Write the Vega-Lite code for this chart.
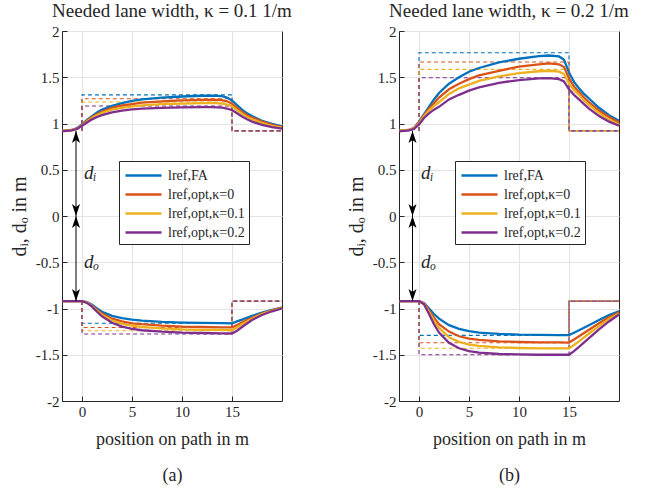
{
  "$schema": "https://vega.github.io/schema/vega-lite/v6.json",
  "background": "white",
  "padding": {"left": 8, "top": 1, "right": 5, "bottom": 0},
  "spacing": 52,
  "config": {
    "font": "Liberation Serif, DejaVu Serif, serif",
    "view": {"stroke": "#262626", "strokeWidth": 1},
    "axis": {"labelFont": "Liberation Serif, DejaVu Serif, serif", "labelFontSize": 15, "labelColor": "#262626", "titleFont": "Liberation Serif, DejaVu Serif, serif", "titleFontSize": 18, "titleFontWeight": "normal", "titleColor": "#262626", "gridColor": "#e3e3e3", "domainColor": "#262626", "tickColor": "#262626", "tickSize": -5, "labelPadding": 8},
    "title": {"font": "Liberation Serif, DejaVu Serif, serif", "fontSize": 19, "fontWeight": "normal", "offset": 3, "color": "#262626"},
    "legend": {"labelFont": "Liberation Serif, DejaVu Serif, serif", "labelFontSize": 14, "labelColor": "#262626", "strokeColor": "#262626", "fillColor": "white", "padding": 4, "rowPadding": 1}
  },
  "datasets": {
    "solid": [
      {"p":"a","s":"FA","d":"u","x":-2,"y":0.92},{"p":"a","s":"FA","d":"u","x":-1,"y":0.93},{"p":"a","s":"FA","d":"u","x":-0.5,"y":0.95},{"p":"a","s":"FA","d":"u","x":0,"y":0.99},{"p":"a","s":"FA","d":"u","x":0.5,"y":1.04},{"p":"a","s":"FA","d":"u","x":1,"y":1.08},{"p":"a","s":"FA","d":"u","x":1.5,"y":1.12},{"p":"a","s":"FA","d":"u","x":2,"y":1.15},{"p":"a","s":"FA","d":"u","x":3,"y":1.19},{"p":"a","s":"FA","d":"u","x":4,"y":1.22},{"p":"a","s":"FA","d":"u","x":5,"y":1.245},{"p":"a","s":"FA","d":"u","x":6,"y":1.26},{"p":"a","s":"FA","d":"u","x":8,"y":1.28},{"p":"a","s":"FA","d":"u","x":10,"y":1.292},{"p":"a","s":"FA","d":"u","x":12,"y":1.3},{"p":"a","s":"FA","d":"u","x":13,"y":1.302},{"p":"a","s":"FA","d":"u","x":14,"y":1.295},{"p":"a","s":"FA","d":"u","x":14.5,"y":1.28},{"p":"a","s":"FA","d":"u","x":15,"y":1.25},{"p":"a","s":"FA","d":"u","x":15.5,"y":1.2},{"p":"a","s":"FA","d":"u","x":16,"y":1.15},{"p":"a","s":"FA","d":"u","x":16.5,"y":1.11},{"p":"a","s":"FA","d":"u","x":17,"y":1.08},{"p":"a","s":"FA","d":"u","x":18,"y":1.03},{"p":"a","s":"FA","d":"u","x":19,"y":0.995},{"p":"a","s":"FA","d":"u","x":20,"y":0.97},
      {"p":"a","s":"k0","d":"u","x":-2,"y":0.92},{"p":"a","s":"k0","d":"u","x":-1,"y":0.93},{"p":"a","s":"k0","d":"u","x":-0.5,"y":0.945},{"p":"a","s":"k0","d":"u","x":0,"y":0.985},{"p":"a","s":"k0","d":"u","x":0.5,"y":1.03},{"p":"a","s":"k0","d":"u","x":1,"y":1.07},{"p":"a","s":"k0","d":"u","x":1.5,"y":1.1},{"p":"a","s":"k0","d":"u","x":2,"y":1.13},{"p":"a","s":"k0","d":"u","x":3,"y":1.17},{"p":"a","s":"k0","d":"u","x":4,"y":1.195},{"p":"a","s":"k0","d":"u","x":5,"y":1.21},{"p":"a","s":"k0","d":"u","x":6,"y":1.225},{"p":"a","s":"k0","d":"u","x":8,"y":1.24},{"p":"a","s":"k0","d":"u","x":10,"y":1.25},{"p":"a","s":"k0","d":"u","x":12,"y":1.256},{"p":"a","s":"k0","d":"u","x":13,"y":1.258},{"p":"a","s":"k0","d":"u","x":14,"y":1.252},{"p":"a","s":"k0","d":"u","x":14.5,"y":1.24},{"p":"a","s":"k0","d":"u","x":15,"y":1.215},{"p":"a","s":"k0","d":"u","x":15.5,"y":1.17},{"p":"a","s":"k0","d":"u","x":16,"y":1.125},{"p":"a","s":"k0","d":"u","x":16.5,"y":1.09},{"p":"a","s":"k0","d":"u","x":17,"y":1.065},{"p":"a","s":"k0","d":"u","x":18,"y":1.02},{"p":"a","s":"k0","d":"u","x":19,"y":0.985},{"p":"a","s":"k0","d":"u","x":20,"y":0.96},
      {"p":"a","s":"k1","d":"u","x":-2,"y":0.92},{"p":"a","s":"k1","d":"u","x":-1,"y":0.928},{"p":"a","s":"k1","d":"u","x":-0.5,"y":0.943},{"p":"a","s":"k1","d":"u","x":0,"y":0.98},{"p":"a","s":"k1","d":"u","x":0.5,"y":1.02},{"p":"a","s":"k1","d":"u","x":1,"y":1.06},{"p":"a","s":"k1","d":"u","x":1.5,"y":1.09},{"p":"a","s":"k1","d":"u","x":2,"y":1.115},{"p":"a","s":"k1","d":"u","x":3,"y":1.15},{"p":"a","s":"k1","d":"u","x":4,"y":1.17},{"p":"a","s":"k1","d":"u","x":5,"y":1.185},{"p":"a","s":"k1","d":"u","x":6,"y":1.195},{"p":"a","s":"k1","d":"u","x":8,"y":1.21},{"p":"a","s":"k1","d":"u","x":10,"y":1.215},{"p":"a","s":"k1","d":"u","x":12,"y":1.22},{"p":"a","s":"k1","d":"u","x":13,"y":1.222},{"p":"a","s":"k1","d":"u","x":14,"y":1.216},{"p":"a","s":"k1","d":"u","x":14.5,"y":1.205},{"p":"a","s":"k1","d":"u","x":15,"y":1.185},{"p":"a","s":"k1","d":"u","x":15.5,"y":1.145},{"p":"a","s":"k1","d":"u","x":16,"y":1.105},{"p":"a","s":"k1","d":"u","x":16.5,"y":1.07},{"p":"a","s":"k1","d":"u","x":17,"y":1.045},{"p":"a","s":"k1","d":"u","x":18,"y":1.005},{"p":"a","s":"k1","d":"u","x":19,"y":0.975},{"p":"a","s":"k1","d":"u","x":20,"y":0.955},
      {"p":"a","s":"k2","d":"u","x":-2,"y":0.915},{"p":"a","s":"k2","d":"u","x":-1,"y":0.925},{"p":"a","s":"k2","d":"u","x":-0.5,"y":0.94},{"p":"a","s":"k2","d":"u","x":0,"y":0.975},{"p":"a","s":"k2","d":"u","x":0.5,"y":1.01},{"p":"a","s":"k2","d":"u","x":1,"y":1.045},{"p":"a","s":"k2","d":"u","x":1.5,"y":1.07},{"p":"a","s":"k2","d":"u","x":2,"y":1.09},{"p":"a","s":"k2","d":"u","x":3,"y":1.12},{"p":"a","s":"k2","d":"u","x":4,"y":1.14},{"p":"a","s":"k2","d":"u","x":5,"y":1.152},{"p":"a","s":"k2","d":"u","x":6,"y":1.16},{"p":"a","s":"k2","d":"u","x":8,"y":1.17},{"p":"a","s":"k2","d":"u","x":10,"y":1.175},{"p":"a","s":"k2","d":"u","x":12,"y":1.178},{"p":"a","s":"k2","d":"u","x":13,"y":1.178},{"p":"a","s":"k2","d":"u","x":14,"y":1.172},{"p":"a","s":"k2","d":"u","x":14.5,"y":1.162},{"p":"a","s":"k2","d":"u","x":15,"y":1.145},{"p":"a","s":"k2","d":"u","x":15.5,"y":1.11},{"p":"a","s":"k2","d":"u","x":16,"y":1.075},{"p":"a","s":"k2","d":"u","x":16.5,"y":1.045},{"p":"a","s":"k2","d":"u","x":17,"y":1.02},{"p":"a","s":"k2","d":"u","x":18,"y":0.985},{"p":"a","s":"k2","d":"u","x":19,"y":0.96},{"p":"a","s":"k2","d":"u","x":20,"y":0.945},

      {"p":"a","s":"FA","d":"l","x":-2,"y":-0.92},{"p":"a","s":"FA","d":"l","x":0,"y":-0.92},{"p":"a","s":"FA","d":"l","x":0.5,"y":-0.93},{"p":"a","s":"FA","d":"l","x":1,"y":-0.96},{"p":"a","s":"FA","d":"l","x":1.5,"y":-1.0},{"p":"a","s":"FA","d":"l","x":2,"y":-1.035},{"p":"a","s":"FA","d":"l","x":3,"y":-1.08},{"p":"a","s":"FA","d":"l","x":4,"y":-1.105},{"p":"a","s":"FA","d":"l","x":5,"y":-1.12},{"p":"a","s":"FA","d":"l","x":6,"y":-1.13},{"p":"a","s":"FA","d":"l","x":8,"y":-1.145},{"p":"a","s":"FA","d":"l","x":10,"y":-1.152},{"p":"a","s":"FA","d":"l","x":12,"y":-1.156},{"p":"a","s":"FA","d":"l","x":14,"y":-1.158},{"p":"a","s":"FA","d":"l","x":15,"y":-1.16},{"p":"a","s":"FA","d":"l","x":15.5,"y":-1.14},{"p":"a","s":"FA","d":"l","x":16,"y":-1.12},{"p":"a","s":"FA","d":"l","x":17,"y":-1.08},{"p":"a","s":"FA","d":"l","x":18,"y":-1.045},{"p":"a","s":"FA","d":"l","x":19,"y":-1.015},{"p":"a","s":"FA","d":"l","x":20,"y":-0.99},
      {"p":"a","s":"k0","d":"l","x":-2,"y":-0.92},{"p":"a","s":"k0","d":"l","x":0,"y":-0.92},{"p":"a","s":"k0","d":"l","x":0.5,"y":-0.935},{"p":"a","s":"k0","d":"l","x":1,"y":-0.97},{"p":"a","s":"k0","d":"l","x":1.5,"y":-1.015},{"p":"a","s":"k0","d":"l","x":2,"y":-1.055},{"p":"a","s":"k0","d":"l","x":3,"y":-1.11},{"p":"a","s":"k0","d":"l","x":4,"y":-1.14},{"p":"a","s":"k0","d":"l","x":5,"y":-1.16},{"p":"a","s":"k0","d":"l","x":6,"y":-1.17},{"p":"a","s":"k0","d":"l","x":8,"y":-1.185},{"p":"a","s":"k0","d":"l","x":10,"y":-1.195},{"p":"a","s":"k0","d":"l","x":12,"y":-1.2},{"p":"a","s":"k0","d":"l","x":14,"y":-1.205},{"p":"a","s":"k0","d":"l","x":15,"y":-1.205},{"p":"a","s":"k0","d":"l","x":15.5,"y":-1.18},{"p":"a","s":"k0","d":"l","x":16,"y":-1.15},{"p":"a","s":"k0","d":"l","x":17,"y":-1.1},{"p":"a","s":"k0","d":"l","x":18,"y":-1.055},{"p":"a","s":"k0","d":"l","x":19,"y":-1.02},{"p":"a","s":"k0","d":"l","x":20,"y":-0.99},
      {"p":"a","s":"k1","d":"l","x":-2,"y":-0.92},{"p":"a","s":"k1","d":"l","x":0,"y":-0.92},{"p":"a","s":"k1","d":"l","x":0.5,"y":-0.935},{"p":"a","s":"k1","d":"l","x":1,"y":-0.975},{"p":"a","s":"k1","d":"l","x":1.5,"y":-1.025},{"p":"a","s":"k1","d":"l","x":2,"y":-1.07},{"p":"a","s":"k1","d":"l","x":3,"y":-1.13},{"p":"a","s":"k1","d":"l","x":4,"y":-1.165},{"p":"a","s":"k1","d":"l","x":5,"y":-1.185},{"p":"a","s":"k1","d":"l","x":6,"y":-1.2},{"p":"a","s":"k1","d":"l","x":8,"y":-1.215},{"p":"a","s":"k1","d":"l","x":10,"y":-1.225},{"p":"a","s":"k1","d":"l","x":12,"y":-1.23},{"p":"a","s":"k1","d":"l","x":14,"y":-1.232},{"p":"a","s":"k1","d":"l","x":15,"y":-1.235},{"p":"a","s":"k1","d":"l","x":15.5,"y":-1.205},{"p":"a","s":"k1","d":"l","x":16,"y":-1.17},{"p":"a","s":"k1","d":"l","x":17,"y":-1.11},{"p":"a","s":"k1","d":"l","x":18,"y":-1.06},{"p":"a","s":"k1","d":"l","x":19,"y":-1.025},{"p":"a","s":"k1","d":"l","x":20,"y":-0.995},
      {"p":"a","s":"k2","d":"l","x":-2,"y":-0.92},{"p":"a","s":"k2","d":"l","x":0,"y":-0.92},{"p":"a","s":"k2","d":"l","x":0.5,"y":-0.94},{"p":"a","s":"k2","d":"l","x":1,"y":-0.98},{"p":"a","s":"k2","d":"l","x":1.5,"y":-1.035},{"p":"a","s":"k2","d":"l","x":2,"y":-1.085},{"p":"a","s":"k2","d":"l","x":3,"y":-1.155},{"p":"a","s":"k2","d":"l","x":4,"y":-1.195},{"p":"a","s":"k2","d":"l","x":5,"y":-1.22},{"p":"a","s":"k2","d":"l","x":6,"y":-1.235},{"p":"a","s":"k2","d":"l","x":8,"y":-1.25},{"p":"a","s":"k2","d":"l","x":10,"y":-1.26},{"p":"a","s":"k2","d":"l","x":12,"y":-1.265},{"p":"a","s":"k2","d":"l","x":14,"y":-1.268},{"p":"a","s":"k2","d":"l","x":15,"y":-1.27},{"p":"a","s":"k2","d":"l","x":15.5,"y":-1.24},{"p":"a","s":"k2","d":"l","x":16,"y":-1.2},{"p":"a","s":"k2","d":"l","x":17,"y":-1.125},{"p":"a","s":"k2","d":"l","x":18,"y":-1.07},{"p":"a","s":"k2","d":"l","x":19,"y":-1.03},{"p":"a","s":"k2","d":"l","x":20,"y":-1.0},

      {"p":"b","s":"FA","d":"u","x":-2,"y":0.92},{"p":"b","s":"FA","d":"u","x":-1,"y":0.93},{"p":"b","s":"FA","d":"u","x":-0.5,"y":0.95},{"p":"b","s":"FA","d":"u","x":0,"y":1.02},{"p":"b","s":"FA","d":"u","x":0.5,"y":1.1},{"p":"b","s":"FA","d":"u","x":1,"y":1.18},{"p":"b","s":"FA","d":"u","x":1.5,"y":1.26},{"p":"b","s":"FA","d":"u","x":2,"y":1.33},{"p":"b","s":"FA","d":"u","x":3,"y":1.43},{"p":"b","s":"FA","d":"u","x":4,"y":1.5},{"p":"b","s":"FA","d":"u","x":5,"y":1.56},{"p":"b","s":"FA","d":"u","x":6,"y":1.6},{"p":"b","s":"FA","d":"u","x":8,"y":1.66},{"p":"b","s":"FA","d":"u","x":10,"y":1.7},{"p":"b","s":"FA","d":"u","x":12,"y":1.728},{"p":"b","s":"FA","d":"u","x":13,"y":1.735},{"p":"b","s":"FA","d":"u","x":14,"y":1.725},{"p":"b","s":"FA","d":"u","x":14.5,"y":1.69},{"p":"b","s":"FA","d":"u","x":15,"y":1.55},{"p":"b","s":"FA","d":"u","x":15.5,"y":1.45},{"p":"b","s":"FA","d":"u","x":16,"y":1.38},{"p":"b","s":"FA","d":"u","x":16.5,"y":1.32},{"p":"b","s":"FA","d":"u","x":17,"y":1.27},{"p":"b","s":"FA","d":"u","x":18,"y":1.17},{"p":"b","s":"FA","d":"u","x":19,"y":1.09},{"p":"b","s":"FA","d":"u","x":20,"y":1.03},
      {"p":"b","s":"k0","d":"u","x":-2,"y":0.92},{"p":"b","s":"k0","d":"u","x":-1,"y":0.93},{"p":"b","s":"k0","d":"u","x":-0.5,"y":0.95},{"p":"b","s":"k0","d":"u","x":0,"y":1.01},{"p":"b","s":"k0","d":"u","x":0.5,"y":1.09},{"p":"b","s":"k0","d":"u","x":1,"y":1.16},{"p":"b","s":"k0","d":"u","x":1.5,"y":1.22},{"p":"b","s":"k0","d":"u","x":2,"y":1.28},{"p":"b","s":"k0","d":"u","x":3,"y":1.37},{"p":"b","s":"k0","d":"u","x":4,"y":1.43},{"p":"b","s":"k0","d":"u","x":5,"y":1.48},{"p":"b","s":"k0","d":"u","x":6,"y":1.52},{"p":"b","s":"k0","d":"u","x":8,"y":1.57},{"p":"b","s":"k0","d":"u","x":10,"y":1.615},{"p":"b","s":"k0","d":"u","x":12,"y":1.64},{"p":"b","s":"k0","d":"u","x":13,"y":1.65},{"p":"b","s":"k0","d":"u","x":14,"y":1.64},{"p":"b","s":"k0","d":"u","x":14.5,"y":1.61},{"p":"b","s":"k0","d":"u","x":15,"y":1.49},{"p":"b","s":"k0","d":"u","x":15.5,"y":1.4},{"p":"b","s":"k0","d":"u","x":16,"y":1.34},{"p":"b","s":"k0","d":"u","x":16.5,"y":1.28},{"p":"b","s":"k0","d":"u","x":17,"y":1.23},{"p":"b","s":"k0","d":"u","x":18,"y":1.14},{"p":"b","s":"k0","d":"u","x":19,"y":1.07},{"p":"b","s":"k0","d":"u","x":20,"y":1.01},
      {"p":"b","s":"k1","d":"u","x":-2,"y":0.92},{"p":"b","s":"k1","d":"u","x":-1,"y":0.93},{"p":"b","s":"k1","d":"u","x":-0.5,"y":0.945},{"p":"b","s":"k1","d":"u","x":0,"y":1.0},{"p":"b","s":"k1","d":"u","x":0.5,"y":1.08},{"p":"b","s":"k1","d":"u","x":1,"y":1.14},{"p":"b","s":"k1","d":"u","x":1.5,"y":1.19},{"p":"b","s":"k1","d":"u","x":2,"y":1.23},{"p":"b","s":"k1","d":"u","x":3,"y":1.32},{"p":"b","s":"k1","d":"u","x":4,"y":1.38},{"p":"b","s":"k1","d":"u","x":5,"y":1.42},{"p":"b","s":"k1","d":"u","x":6,"y":1.46},{"p":"b","s":"k1","d":"u","x":8,"y":1.51},{"p":"b","s":"k1","d":"u","x":10,"y":1.545},{"p":"b","s":"k1","d":"u","x":12,"y":1.565},{"p":"b","s":"k1","d":"u","x":13,"y":1.57},{"p":"b","s":"k1","d":"u","x":14,"y":1.56},{"p":"b","s":"k1","d":"u","x":14.5,"y":1.535},{"p":"b","s":"k1","d":"u","x":15,"y":1.43},{"p":"b","s":"k1","d":"u","x":15.5,"y":1.36},{"p":"b","s":"k1","d":"u","x":16,"y":1.31},{"p":"b","s":"k1","d":"u","x":16.5,"y":1.25},{"p":"b","s":"k1","d":"u","x":17,"y":1.2},{"p":"b","s":"k1","d":"u","x":18,"y":1.11},{"p":"b","s":"k1","d":"u","x":19,"y":1.04},{"p":"b","s":"k1","d":"u","x":20,"y":0.99},
      {"p":"b","s":"k2","d":"u","x":-2,"y":0.915},{"p":"b","s":"k2","d":"u","x":-1,"y":0.925},{"p":"b","s":"k2","d":"u","x":-0.5,"y":0.94},{"p":"b","s":"k2","d":"u","x":0,"y":0.99},{"p":"b","s":"k2","d":"u","x":0.5,"y":1.06},{"p":"b","s":"k2","d":"u","x":1,"y":1.11},{"p":"b","s":"k2","d":"u","x":1.5,"y":1.15},{"p":"b","s":"k2","d":"u","x":2,"y":1.18},{"p":"b","s":"k2","d":"u","x":3,"y":1.26},{"p":"b","s":"k2","d":"u","x":4,"y":1.31},{"p":"b","s":"k2","d":"u","x":5,"y":1.355},{"p":"b","s":"k2","d":"u","x":6,"y":1.39},{"p":"b","s":"k2","d":"u","x":8,"y":1.44},{"p":"b","s":"k2","d":"u","x":10,"y":1.47},{"p":"b","s":"k2","d":"u","x":12,"y":1.488},{"p":"b","s":"k2","d":"u","x":13,"y":1.49},{"p":"b","s":"k2","d":"u","x":14,"y":1.48},{"p":"b","s":"k2","d":"u","x":14.5,"y":1.455},{"p":"b","s":"k2","d":"u","x":15,"y":1.37},{"p":"b","s":"k2","d":"u","x":15.5,"y":1.31},{"p":"b","s":"k2","d":"u","x":16,"y":1.26},{"p":"b","s":"k2","d":"u","x":16.5,"y":1.21},{"p":"b","s":"k2","d":"u","x":17,"y":1.16},{"p":"b","s":"k2","d":"u","x":18,"y":1.08},{"p":"b","s":"k2","d":"u","x":19,"y":1.02},{"p":"b","s":"k2","d":"u","x":20,"y":0.975},

      {"p":"b","s":"FA","d":"l","x":-2,"y":-0.92},{"p":"b","s":"FA","d":"l","x":0,"y":-0.92},{"p":"b","s":"FA","d":"l","x":0.5,"y":-0.94},{"p":"b","s":"FA","d":"l","x":1,"y":-1.0},{"p":"b","s":"FA","d":"l","x":1.5,"y":-1.06},{"p":"b","s":"FA","d":"l","x":2,"y":-1.11},{"p":"b","s":"FA","d":"l","x":3,"y":-1.18},{"p":"b","s":"FA","d":"l","x":4,"y":-1.22},{"p":"b","s":"FA","d":"l","x":5,"y":-1.245},{"p":"b","s":"FA","d":"l","x":6,"y":-1.26},{"p":"b","s":"FA","d":"l","x":8,"y":-1.275},{"p":"b","s":"FA","d":"l","x":10,"y":-1.283},{"p":"b","s":"FA","d":"l","x":12,"y":-1.286},{"p":"b","s":"FA","d":"l","x":14,"y":-1.287},{"p":"b","s":"FA","d":"l","x":15,"y":-1.288},{"p":"b","s":"FA","d":"l","x":15.5,"y":-1.262},{"p":"b","s":"FA","d":"l","x":16,"y":-1.235},{"p":"b","s":"FA","d":"l","x":17,"y":-1.18},{"p":"b","s":"FA","d":"l","x":18,"y":-1.125},{"p":"b","s":"FA","d":"l","x":19,"y":-1.072},{"p":"b","s":"FA","d":"l","x":20,"y":-1.03},
      {"p":"b","s":"k0","d":"l","x":-2,"y":-0.92},{"p":"b","s":"k0","d":"l","x":0,"y":-0.92},{"p":"b","s":"k0","d":"l","x":0.5,"y":-0.945},{"p":"b","s":"k0","d":"l","x":1,"y":-1.02},{"p":"b","s":"k0","d":"l","x":1.5,"y":-1.1},{"p":"b","s":"k0","d":"l","x":2,"y":-1.17},{"p":"b","s":"k0","d":"l","x":3,"y":-1.25},{"p":"b","s":"k0","d":"l","x":4,"y":-1.3},{"p":"b","s":"k0","d":"l","x":5,"y":-1.325},{"p":"b","s":"k0","d":"l","x":6,"y":-1.34},{"p":"b","s":"k0","d":"l","x":8,"y":-1.355},{"p":"b","s":"k0","d":"l","x":10,"y":-1.362},{"p":"b","s":"k0","d":"l","x":12,"y":-1.366},{"p":"b","s":"k0","d":"l","x":14,"y":-1.367},{"p":"b","s":"k0","d":"l","x":15,"y":-1.368},{"p":"b","s":"k0","d":"l","x":15.5,"y":-1.335},{"p":"b","s":"k0","d":"l","x":16,"y":-1.3},{"p":"b","s":"k0","d":"l","x":17,"y":-1.23},{"p":"b","s":"k0","d":"l","x":18,"y":-1.16},{"p":"b","s":"k0","d":"l","x":19,"y":-1.095},{"p":"b","s":"k0","d":"l","x":20,"y":-1.045},
      {"p":"b","s":"k1","d":"l","x":-2,"y":-0.92},{"p":"b","s":"k1","d":"l","x":0,"y":-0.92},{"p":"b","s":"k1","d":"l","x":0.5,"y":-0.95},{"p":"b","s":"k1","d":"l","x":1,"y":-1.04},{"p":"b","s":"k1","d":"l","x":1.5,"y":-1.13},{"p":"b","s":"k1","d":"l","x":2,"y":-1.21},{"p":"b","s":"k1","d":"l","x":3,"y":-1.31},{"p":"b","s":"k1","d":"l","x":4,"y":-1.36},{"p":"b","s":"k1","d":"l","x":5,"y":-1.39},{"p":"b","s":"k1","d":"l","x":6,"y":-1.405},{"p":"b","s":"k1","d":"l","x":8,"y":-1.42},{"p":"b","s":"k1","d":"l","x":10,"y":-1.427},{"p":"b","s":"k1","d":"l","x":12,"y":-1.43},{"p":"b","s":"k1","d":"l","x":14,"y":-1.431},{"p":"b","s":"k1","d":"l","x":15,"y":-1.432},{"p":"b","s":"k1","d":"l","x":15.5,"y":-1.395},{"p":"b","s":"k1","d":"l","x":16,"y":-1.355},{"p":"b","s":"k1","d":"l","x":17,"y":-1.27},{"p":"b","s":"k1","d":"l","x":18,"y":-1.19},{"p":"b","s":"k1","d":"l","x":19,"y":-1.115},{"p":"b","s":"k1","d":"l","x":20,"y":-1.055},
      {"p":"b","s":"k2","d":"l","x":-2,"y":-0.92},{"p":"b","s":"k2","d":"l","x":0,"y":-0.92},{"p":"b","s":"k2","d":"l","x":0.5,"y":-0.955},{"p":"b","s":"k2","d":"l","x":1,"y":-1.06},{"p":"b","s":"k2","d":"l","x":1.5,"y":-1.17},{"p":"b","s":"k2","d":"l","x":2,"y":-1.26},{"p":"b","s":"k2","d":"l","x":3,"y":-1.37},{"p":"b","s":"k2","d":"l","x":4,"y":-1.43},{"p":"b","s":"k2","d":"l","x":5,"y":-1.46},{"p":"b","s":"k2","d":"l","x":6,"y":-1.478},{"p":"b","s":"k2","d":"l","x":8,"y":-1.492},{"p":"b","s":"k2","d":"l","x":10,"y":-1.497},{"p":"b","s":"k2","d":"l","x":12,"y":-1.5},{"p":"b","s":"k2","d":"l","x":14,"y":-1.5},{"p":"b","s":"k2","d":"l","x":15,"y":-1.5},{"p":"b","s":"k2","d":"l","x":15.5,"y":-1.46},{"p":"b","s":"k2","d":"l","x":16,"y":-1.415},{"p":"b","s":"k2","d":"l","x":17,"y":-1.32},{"p":"b","s":"k2","d":"l","x":18,"y":-1.225},{"p":"b","s":"k2","d":"l","x":19,"y":-1.14},{"p":"b","s":"k2","d":"l","x":20,"y":-1.065}
    ],
    "dashed": [
      {"p":"a","s":"FA","d":"u","i":1,"x":0,"y":0.92},{"p":"a","s":"FA","d":"u","i":2,"x":0,"y":1.31},{"p":"a","s":"FA","d":"u","i":3,"x":15,"y":1.31},{"p":"a","s":"FA","d":"u","i":4,"x":15,"y":0.92},{"p":"a","s":"FA","d":"u","i":5,"x":20,"y":0.92},
      {"p":"a","s":"k0","d":"u","i":1,"x":0,"y":0.92},{"p":"a","s":"k0","d":"u","i":2,"x":0,"y":1.268},{"p":"a","s":"k0","d":"u","i":3,"x":15,"y":1.268},{"p":"a","s":"k0","d":"u","i":4,"x":15,"y":0.92},{"p":"a","s":"k0","d":"u","i":5,"x":20,"y":0.92},
      {"p":"a","s":"k1","d":"u","i":1,"x":0,"y":0.92},{"p":"a","s":"k1","d":"u","i":2,"x":0,"y":1.232},{"p":"a","s":"k1","d":"u","i":3,"x":15,"y":1.232},{"p":"a","s":"k1","d":"u","i":4,"x":15,"y":0.92},{"p":"a","s":"k1","d":"u","i":5,"x":20,"y":0.92},
      {"p":"a","s":"k2","d":"u","i":1,"x":0,"y":0.92},{"p":"a","s":"k2","d":"u","i":2,"x":0,"y":1.19},{"p":"a","s":"k2","d":"u","i":3,"x":15,"y":1.19},{"p":"a","s":"k2","d":"u","i":4,"x":15,"y":0.92},{"p":"a","s":"k2","d":"u","i":5,"x":20,"y":0.92},
      {"p":"a","s":"FA","d":"l","i":1,"x":0,"y":-0.92},{"p":"a","s":"FA","d":"l","i":2,"x":0,"y":-1.16},{"p":"a","s":"FA","d":"l","i":3,"x":15,"y":-1.16},{"p":"a","s":"FA","d":"l","i":4,"x":15,"y":-0.92},{"p":"a","s":"FA","d":"l","i":5,"x":20,"y":-0.92},
      {"p":"a","s":"k0","d":"l","i":1,"x":0,"y":-0.92},{"p":"a","s":"k0","d":"l","i":2,"x":0,"y":-1.205},{"p":"a","s":"k0","d":"l","i":3,"x":15,"y":-1.205},{"p":"a","s":"k0","d":"l","i":4,"x":15,"y":-0.92},{"p":"a","s":"k0","d":"l","i":5,"x":20,"y":-0.92},
      {"p":"a","s":"k1","d":"l","i":1,"x":0,"y":-0.92},{"p":"a","s":"k1","d":"l","i":2,"x":0,"y":-1.24},{"p":"a","s":"k1","d":"l","i":3,"x":15,"y":-1.24},{"p":"a","s":"k1","d":"l","i":4,"x":15,"y":-0.92},{"p":"a","s":"k1","d":"l","i":5,"x":20,"y":-0.92},
      {"p":"a","s":"k2","d":"l","i":1,"x":0,"y":-0.92},{"p":"a","s":"k2","d":"l","i":2,"x":0,"y":-1.275},{"p":"a","s":"k2","d":"l","i":3,"x":15,"y":-1.275},{"p":"a","s":"k2","d":"l","i":4,"x":15,"y":-0.92},{"p":"a","s":"k2","d":"l","i":5,"x":20,"y":-0.92},
      {"p":"b","s":"FA","d":"u","i":1,"x":0,"y":0.92},{"p":"b","s":"FA","d":"u","i":2,"x":0,"y":1.765},{"p":"b","s":"FA","d":"u","i":3,"x":15,"y":1.765},{"p":"b","s":"FA","d":"u","i":4,"x":15,"y":0.92},{"p":"b","s":"FA","d":"u","i":5,"x":20,"y":0.92},
      {"p":"b","s":"k0","d":"u","i":1,"x":0,"y":0.92},{"p":"b","s":"k0","d":"u","i":2,"x":0,"y":1.665},{"p":"b","s":"k0","d":"u","i":3,"x":15,"y":1.665},{"p":"b","s":"k0","d":"u","i":4,"x":15,"y":0.92},{"p":"b","s":"k0","d":"u","i":5,"x":20,"y":0.92},
      {"p":"b","s":"k1","d":"u","i":1,"x":0,"y":0.92},{"p":"b","s":"k1","d":"u","i":2,"x":0,"y":1.585},{"p":"b","s":"k1","d":"u","i":3,"x":15,"y":1.585},{"p":"b","s":"k1","d":"u","i":4,"x":15,"y":0.92},{"p":"b","s":"k1","d":"u","i":5,"x":20,"y":0.92},
      {"p":"b","s":"k2","d":"u","i":1,"x":0,"y":0.92},{"p":"b","s":"k2","d":"u","i":2,"x":0,"y":1.495},{"p":"b","s":"k2","d":"u","i":3,"x":15,"y":1.495},{"p":"b","s":"k2","d":"u","i":4,"x":15,"y":0.92},{"p":"b","s":"k2","d":"u","i":5,"x":20,"y":0.92},
      {"p":"b","s":"FA","d":"l","i":1,"x":0,"y":-0.92},{"p":"b","s":"FA","d":"l","i":2,"x":0,"y":-1.29},{"p":"b","s":"FA","d":"l","i":3,"x":15,"y":-1.29},{"p":"b","s":"FA","d":"l","i":4,"x":15,"y":-0.92},{"p":"b","s":"FA","d":"l","i":5,"x":20,"y":-0.92},
      {"p":"b","s":"k0","d":"l","i":1,"x":0,"y":-0.92},{"p":"b","s":"k0","d":"l","i":2,"x":0,"y":-1.37},{"p":"b","s":"k0","d":"l","i":3,"x":15,"y":-1.37},{"p":"b","s":"k0","d":"l","i":4,"x":15,"y":-0.92},{"p":"b","s":"k0","d":"l","i":5,"x":20,"y":-0.92},
      {"p":"b","s":"k1","d":"l","i":1,"x":0,"y":-0.92},{"p":"b","s":"k1","d":"l","i":2,"x":0,"y":-1.43},{"p":"b","s":"k1","d":"l","i":3,"x":15,"y":-1.43},{"p":"b","s":"k1","d":"l","i":4,"x":15,"y":-0.92},{"p":"b","s":"k1","d":"l","i":5,"x":20,"y":-0.92},
      {"p":"b","s":"k2","d":"l","i":1,"x":0,"y":-0.92},{"p":"b","s":"k2","d":"l","i":2,"x":0,"y":-1.5},{"p":"b","s":"k2","d":"l","i":3,"x":15,"y":-1.5},{"p":"b","s":"k2","d":"l","i":4,"x":15,"y":-0.92},{"p":"b","s":"k2","d":"l","i":5,"x":20,"y":-0.92}
    ],
    "arrows": [
      {"p":"a","x":-0.6,"y":0.92,"y2":0},{"p":"a","x":-0.6,"y":0,"y2":-0.92},
      {"p":"b","x":-0.65,"y":0.92,"y2":0},{"p":"b","x":-0.65,"y":0,"y2":-0.92}
    ],
    "heads": [
      {"p":"a","x":-0.6,"y":0.92,"dir":"up"},{"p":"a","x":-0.6,"y":0,"dir":"down"},{"p":"a","x":-0.6,"y":0,"dir":"up"},{"p":"a","x":-0.6,"y":-0.92,"dir":"down"},
      {"p":"b","x":-0.65,"y":0.92,"dir":"up"},{"p":"b","x":-0.65,"y":0,"dir":"down"},{"p":"b","x":-0.65,"y":0,"dir":"up"},{"p":"b","x":-0.65,"y":-0.92,"dir":"down"}
    ],
    "dlabels": [
      {"p":"a","x":0.2,"y":0.46,"t":"dᵢ"},{"p":"a","x":0.2,"y":-0.5,"t":"dₒ"},
      {"p":"b","x":0.2,"y":0.46,"t":"dᵢ"},{"p":"b","x":0.2,"y":-0.5,"t":"dₒ"}
    ]
  },
  "resolve": {"legend": {"color": "independent"}},
  "hconcat": [
    {
      "width": 220, "height": 370,
      "title": "Needed lane width, κ = 0.1 1/m",
      "encoding": {
        "x": {"field": "x", "type": "quantitative", "scale": {"domain": [-2, 20], "nice": false, "zero": false}, "axis": {"values": [0, 5, 10, 15], "title": ["position on path in m", "(a)\u00a0\u00a0\u00a0\u00a0\u00a0\u00a0\u00a0\u00a0"], "titleLineHeight": 36, "titlePadding": 11}},
        "y": {"field": "y", "type": "quantitative", "scale": {"domain": [-2, 2], "nice": false}, "axis": {"values": [-2, -1.5, -1, -0.5, 0, 0.5, 1, 1.5, 2], "labelExpr": "'' + datum.value", "title": "dᵢ, dₒ in m", "titleFontSize": 20, "titlePadding": 6}}
      },
      "layer": [
        {"data": {"name": "dashed"}, "transform": [{"filter": "datum.p === 'a'"}],
         "mark": {"type": "line", "strokeWidth": 1.1, "strokeDash": [4, 3]},
         "encoding": {"color": {"field": "s", "type": "nominal", "scale": {"domain": ["FA", "k0", "k1", "k2"], "range": ["#0072BD", "#D95319", "#EDB120", "#7E2F8E"]}, "legend": null}, "detail": {"field": "d"}, "order": {"field": "i", "type": "quantitative"}}},
        {"data": {"name": "solid"}, "transform": [{"filter": "datum.p === 'a'"}],
         "mark": {"type": "line", "strokeWidth": 2.3},
         "encoding": {"color": {"field": "s", "type": "nominal", "scale": {"domain": ["FA", "k0", "k1", "k2"], "range": ["#0072BD", "#D95319", "#EDB120", "#7E2F8E"]}, "legend": {"title": null, "orient": "none", "legendX": 57, "legendY": 130, "symbolType": "M-2,0L2,0", "symbolSize": 324, "symbolOffset": 10, "labelOffset": 14, "symbolStrokeWidth": 2.5, "labelExpr": "datum.label === 'FA' ? 'lref,FA' : datum.label === 'k0' ? 'lref,opt,κ=0' : datum.label === 'k1' ? 'lref,opt,κ=0.1' : 'lref,opt,κ=0.2'"}}, "detail": {"field": "d"}}},
        {"data": {"name": "arrows"}, "transform": [{"filter": "datum.p === 'a'"}],
         "mark": {"type": "rule", "color": "black", "strokeWidth": 1},
         "encoding": {"y2": {"field": "y2"}}},
        {"data": {"name": "heads"}, "transform": [{"filter": "datum.p === 'a'"}],
         "mark": {"type": "point", "filled": true, "color": "black", "opacity": 1, "size": 144},
         "encoding": {"shape": {"field": "dir", "type": "nominal", "scale": {"domain": ["up", "down"], "range": ["M0,0L-0.67,2L0,1.5L0.67,2Z", "M0,0L-0.67,-2L0,-1.5L0.67,-2Z"]}, "legend": null}}},
        {"data": {"name": "dlabels"}, "transform": [{"filter": "datum.p === 'a'"}],
         "mark": {"type": "text", "align": "left", "baseline": "middle", "fontSize": 19, "fontStyle": "italic", "font": "Liberation Serif, DejaVu Serif, serif", "color": "#262626"},
         "encoding": {"text": {"field": "t"}}}
      ],
      "resolve": {"legend": {"color": "independent"}}
    },
    {
      "width": 220, "height": 370,
      "title": "Needed lane width, κ = 0.2 1/m",
      "encoding": {
        "x": {"field": "x", "type": "quantitative", "scale": {"domain": [-2, 20], "nice": false, "zero": false}, "axis": {"values": [0, 5, 10, 15], "title": ["position on path in m", "(b)\u00a0\u00a0\u00a0\u00a0\u00a0\u00a0\u00a0\u00a0"], "titleLineHeight": 36, "titlePadding": 11}},
        "y": {"field": "y", "type": "quantitative", "scale": {"domain": [-2, 2], "nice": false}, "axis": {"values": [-2, -1.5, -1, -0.5, 0, 0.5, 1, 1.5, 2], "labelExpr": "'' + datum.value", "title": "dᵢ, dₒ in m", "titleFontSize": 20, "titlePadding": 6}}
      },
      "layer": [
        {"data": {"name": "dashed"}, "transform": [{"filter": "datum.p === 'b'"}],
         "mark": {"type": "line", "strokeWidth": 1.1, "strokeDash": [4, 3]},
         "encoding": {"color": {"field": "s", "type": "nominal", "scale": {"domain": ["FA", "k0", "k1", "k2"], "range": ["#0072BD", "#D95319", "#EDB120", "#7E2F8E"]}, "legend": null}, "detail": {"field": "d"}, "order": {"field": "i", "type": "quantitative"}}},
        {"data": {"name": "solid"}, "transform": [{"filter": "datum.p === 'b'"}],
         "mark": {"type": "line", "strokeWidth": 2.3},
         "encoding": {"color": {"field": "s", "type": "nominal", "scale": {"domain": ["FA", "k0", "k1", "k2"], "range": ["#0072BD", "#D95319", "#EDB120", "#7E2F8E"]}, "legend": {"title": null, "orient": "none", "legendX": 56, "legendY": 130, "symbolType": "M-2,0L2,0", "symbolSize": 324, "symbolOffset": 10, "labelOffset": 14, "symbolStrokeWidth": 2.5, "labelExpr": "datum.label === 'FA' ? 'lref,FA' : datum.label === 'k0' ? 'lref,opt,κ=0' : datum.label === 'k1' ? 'lref,opt,κ=0.1' : 'lref,opt,κ=0.2'"}}, "detail": {"field": "d"}}},
        {"data": {"name": "arrows"}, "transform": [{"filter": "datum.p === 'b'"}],
         "mark": {"type": "rule", "color": "black", "strokeWidth": 1},
         "encoding": {"y2": {"field": "y2"}}},
        {"data": {"name": "heads"}, "transform": [{"filter": "datum.p === 'b'"}],
         "mark": {"type": "point", "filled": true, "color": "black", "opacity": 1, "size": 144},
         "encoding": {"shape": {"field": "dir", "type": "nominal", "scale": {"domain": ["up", "down"], "range": ["M0,0L-0.67,2L0,1.5L0.67,2Z", "M0,0L-0.67,-2L0,-1.5L0.67,-2Z"]}, "legend": null}}},
        {"data": {"name": "dlabels"}, "transform": [{"filter": "datum.p === 'b'"}],
         "mark": {"type": "text", "align": "left", "baseline": "middle", "fontSize": 19, "fontStyle": "italic", "font": "Liberation Serif, DejaVu Serif, serif", "color": "#262626"},
         "encoding": {"text": {"field": "t"}}}
      ],
      "resolve": {"legend": {"color": "independent"}}
    }
  ]
}
